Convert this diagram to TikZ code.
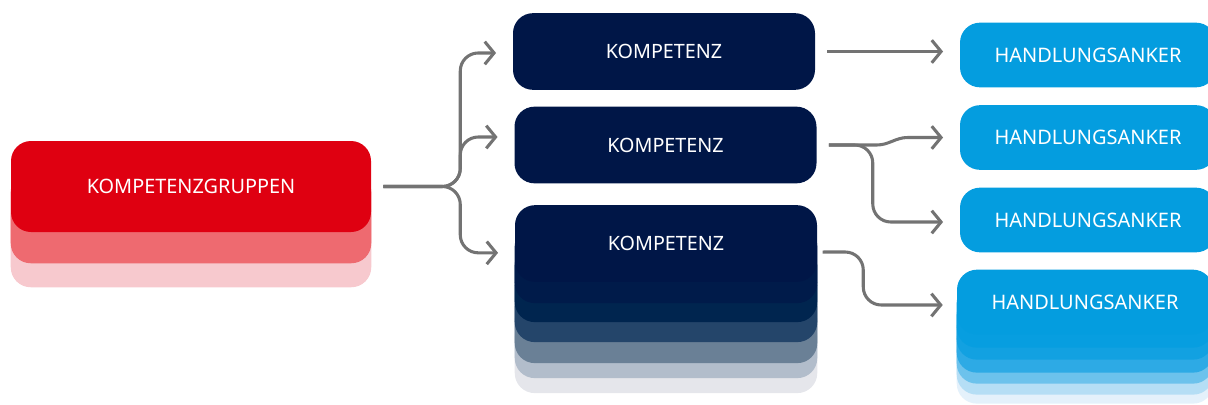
\documentclass[tikz,border=0pt]{standalone}
\usepackage{fontspec}
\setmainfont{Noto Sans}
\usetikzlibrary{arrows.meta,backgrounds,calc}
% Farben
\definecolor{kgrot}{HTML}{DF0011}
\definecolor{kgrotA}{HTML}{EE6A70}
\definecolor{kgrotB}{HTML}{F7C9CE}
\definecolor{kblau}{HTML}{001647}
\definecolor{kblauA}{HTML}{001B4A}
\definecolor{kblauB}{HTML}{00254F}
\definecolor{kblauC}{HTML}{24456A}
\definecolor{kblauD}{HTML}{6A8096}
\definecolor{kblauE}{HTML}{B2BDCB}
\definecolor{kblauF}{HTML}{E5E6EB}
\definecolor{hblau}{HTML}{049DDF}
\definecolor{hblauA}{HTML}{079EE0}
\definecolor{hblauB}{HTML}{12A1E1}
\definecolor{hblauC}{HTML}{2DAAE5}
\definecolor{hblauD}{HTML}{6CC2EC}
\definecolor{hblauE}{HTML}{B5DEF5}
\definecolor{hblauF}{HTML}{E4F1FB}
\definecolor{pfeilgrau}{HTML}{737373}
\begin{document}
\begin{tikzpicture}[x=0.75pt,y=-0.75pt,
  kasten/.style={rounded corners=15pt, inner sep=0pt, text=white},
  gruppe/.style={kasten, fill=kgrot, minimum width=270pt, minimum height=68.25pt, font=\fontsize{14.9}{17}\selectfont},
  kompetenz/.style={kasten, fill=kblau, minimum width=226.5pt, minimum height=57.5pt, font=\fontsize{14.8}{17}\selectfont},
  anker/.style={kasten, fill=hblau, minimum width=192pt, minimum height=48.5pt, font=\fontsize{15}{17}\selectfont},
  pfeil/.style={draw=pfeilgrau, line width=2.3pt, shorten <=9pt, shorten >=12.5pt,
    -{Straight Barb[length=7pt,width=17pt,line width=2.3pt]}},
  ecke/.style={rounded corners=13.5pt}]
\useasboundingbox (0,0) rectangle (1208,404);
% Kaesten
\node[gruppe] (g) at (191,186.5) {KOMPETENZGRUPPEN};
\node[kompetenz] (k1) at (664,51.5) {KOMPETENZ};
\node[kompetenz] (k2) at (665.5,145) {KOMPETENZ};
\node[kompetenz] (k3) at (666,243.5) {KOMPETENZ};
\node[anker] (h1) at (1088,55) {HANDLUNGSANKER};
\node[anker] (h2) at (1088,137.5) {HANDLUNGSANKER};
\node[anker] (h3) at (1088,220) {HANDLUNGSANKER};
\node[anker] (h4) at (1085,302) {HANDLUNGSANKER};
% Stapel hinter den Kaesten
\begin{scope}[on background layer]
\foreach \d/\c in {55/kgrotB, 31/kgrotA}
  \fill[\c, rounded corners=15pt] ($(g.north west)+(0,\d)$) rectangle ($(g.south east)+(0,\d)$);
\foreach \d/\c in {111/kblauF, 96/kblauE, 81/kblauD, 60/kblauC, 40/kblauB, 21/kblauA}
  \fill[\c, rounded corners=15pt] ($(k3.north west)+(0,\d)$) rectangle ($(k3.south east)+(0,\d)$);
\foreach \d/\c in {69/hblauF, 60/hblauE, 49/hblauD, 38/hblauC, 25/hblauB, 13/hblauA}
  \fill[\c, rounded corners=15pt] ($(h4.north west)+(0,\d)$) rectangle ($(h4.south east)+(0,\d)$);
\end{scope}
% Pfeile links
\coordinate (ast) at ($(g.east)+(89,0)$);
\draw[pfeil, ecke] (g.east) -- (ast) |- ([yshift=-1.1pt]k1.west);
\draw[pfeil, ecke] (g.east) -- (ast) |- ([yshift=6pt]k2.west);
\draw[pfeil, ecke] (g.east) -- (ast) |- ([yshift=-7pt]k3.west);
% Pfeile rechts
\draw[pfeil] (k1.east) -- (k1.east -| h1.west);
\draw[pfeil] (k2.east) -- ($(k2.east)+(60,0)$) to[out=0,in=180] ($(h2.west)+(-52,0)$) -- (h2.west);
\draw[pfeil, ecke] (k2.east) -- ($(k2.east)+(56,0)$) |- ([yshift=-1.5pt]h3.west);
\draw[pfeil, ecke, shorten <=4pt, shorten >=10.5pt] ([yshift=-6.4pt]k3.east) -- ($(k3.east)+(46,8.5)$) |- ([yshift=-2.25pt]h4.west);
\end{tikzpicture}
\end{document}
